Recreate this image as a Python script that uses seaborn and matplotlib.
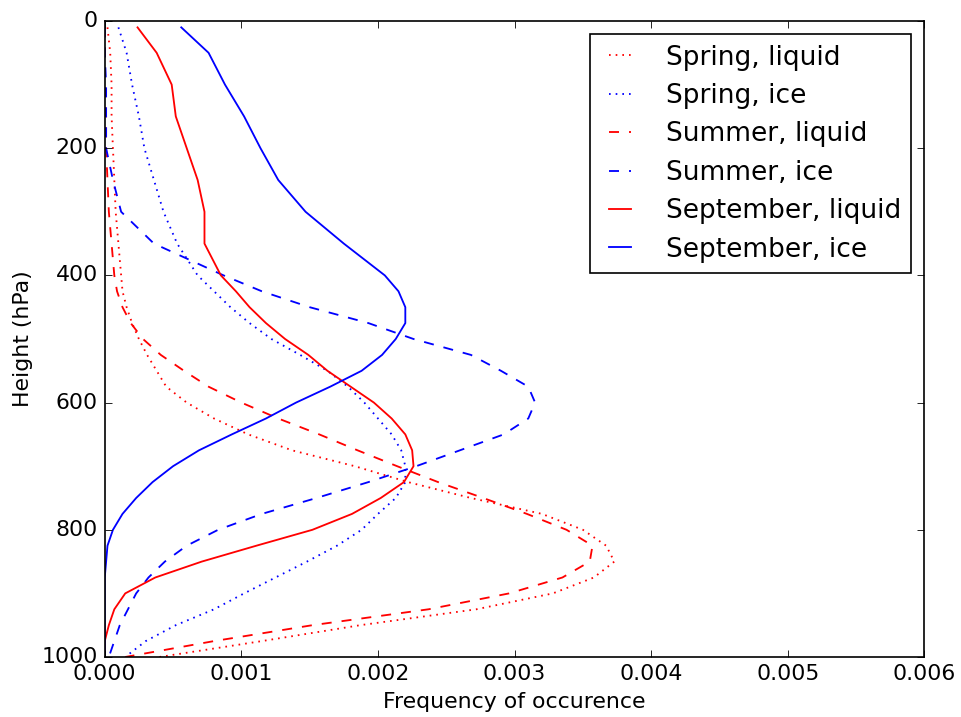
import numpy as np
import pandas as pd
import matplotlib
matplotlib.use("Agg")
import matplotlib.pyplot as plt
import seaborn as sns
from matplotlib.ticker import FormatStrFormatter

# pressure levels (hPa) shared by all profiles
levels = [10, 50, 100, 150, 200, 250, 300, 350, 400, 425, 450, 475, 500, 525,
          550, 575, 600, 625, 650, 675, 700, 725, 750, 775, 800, 825, 850,
          875, 900, 925, 950, 975, 1000]

spring_liquid = [0.00002, 0.00004, 0.00005, 0.00005, 0.00006, 0.00007, 0.00008,
                 0.00010, 0.00012, 0.00013, 0.00016, 0.00020, 0.00025, 0.00031,
                 0.00038, 0.00045, 0.00060, 0.00080, 0.00105, 0.00137, 0.00183,
                 0.00222, 0.00268, 0.00320, 0.00350, 0.00367, 0.00373, 0.00358,
                 0.00328, 0.00272, 0.00187, 0.00115, 0.00040]
spring_ice = [0.00010, 0.00016, 0.00020, 0.00025, 0.00029, 0.00036, 0.00043,
              0.00053, 0.00068, 0.00080, 0.00092, 0.00106, 0.00122, 0.00143,
              0.00163, 0.00178, 0.00190, 0.00200, 0.00210, 0.00217, 0.00220,
              0.00220, 0.00213, 0.00200, 0.00188, 0.00170, 0.00148, 0.00125,
              0.00102, 0.00080, 0.00052, 0.00030, 0.00015]
summer_liquid = [0.0, 0.0, 0.0, 0.00001, 0.00001, 0.00002, 0.00003, 0.00005,
                 0.00007, 0.00009, 0.00013, 0.00019, 0.00028, 0.00041, 0.00058,
                 0.00076, 0.00100, 0.00127, 0.00157, 0.00185, 0.00214, 0.00244,
                 0.00277, 0.00309, 0.00338, 0.00357, 0.00355, 0.00335, 0.00296,
                 0.00237, 0.00152, 0.00080, 0.00015]
summer_ice = [0.0, 0.0, 0.00001, 0.00001, 0.00001, 0.00006, 0.00012, 0.00036,
              0.00087, 0.00115, 0.00150, 0.00193, 0.00226, 0.00268, 0.00290,
              0.00310, 0.00315, 0.00310, 0.00292, 0.00260, 0.00228, 0.00193,
              0.00155, 0.00115, 0.00083, 0.00060, 0.00044, 0.00032, 0.00023,
              0.00017, 0.00011, 0.00007, 0.00003]
september_liquid = [0.00024, 0.00038, 0.00049, 0.00052, 0.00060, 0.00068,
                    0.00073, 0.00073, 0.00085, 0.00096, 0.00106, 0.00118,
                    0.00132, 0.00149, 0.00163, 0.00180, 0.00197, 0.00210,
                    0.00220, 0.00225, 0.00226, 0.00219, 0.00202, 0.00181,
                    0.00152, 0.00111, 0.00071, 0.00037, 0.00015, 0.00007,
                    0.00003, 0.0, 0.0]
september_ice = [0.00056, 0.00076, 0.00088, 0.00102, 0.00114, 0.00127, 0.00147,
                 0.00175, 0.00205, 0.00215, 0.00220, 0.00220, 0.00213, 0.00203,
                 0.00188, 0.00165, 0.00140, 0.00118, 0.00093, 0.00069, 0.00050,
                 0.00035, 0.00023, 0.00013, 0.00006, 0.00002, 0.00001, 0.0,
                 0.0, 0.0, 0.0, 0.0, 0.0]

labels = ["Spring, liquid", "Spring, ice", "Summer, liquid", "Summer, ice",
          "September, liquid", "September, ice"]
series = [spring_liquid, spring_ice, summer_liquid, summer_ice,
          september_liquid, september_ice]
colors = ["red", "blue", "red", "blue", "red", "blue"]
styles = [":", ":", "--", "--", "-", "-"]

plt.style.use("classic")
plt.rcParams["figure.facecolor"] = "white"
plt.rcParams["font.family"] = ["DejaVu Sans"]
plt.rcParams["font.size"] = 13.2

fig = plt.figure(figsize=(961 / 120, 717 / 120), dpi=120)
ax = fig.add_axes([0.109, 0.0837, 0.853, 0.887])

for lab, vals, c, ls in zip(labels, series, colors, styles):
    df = pd.DataFrame({"freq": vals, "p": levels})
    sns.lineplot(data=df, x="freq", y="p", orient="y", estimator=None,
                 color=c, linestyle=ls, linewidth=1.1, label=lab, ax=ax)

ax.set_xlim(0, 0.006)
ax.set_ylim(1000, 0)
ax.set_xticks(np.arange(0, 0.0061, 0.001))
ax.set_yticks(range(0, 1001, 200))
ax.xaxis.set_major_formatter(FormatStrFormatter("%.3f"))
ax.set_xlabel("Frequency of occurence")
ax.set_ylabel("Height (hPa)")
ax.legend(loc="upper right", fontsize=15.8, handlelength=1.45,
          handletextpad=1.0, labelspacing=0.47, borderaxespad=0.5)

fig.savefig("out.png", dpi=120, facecolor="white")
